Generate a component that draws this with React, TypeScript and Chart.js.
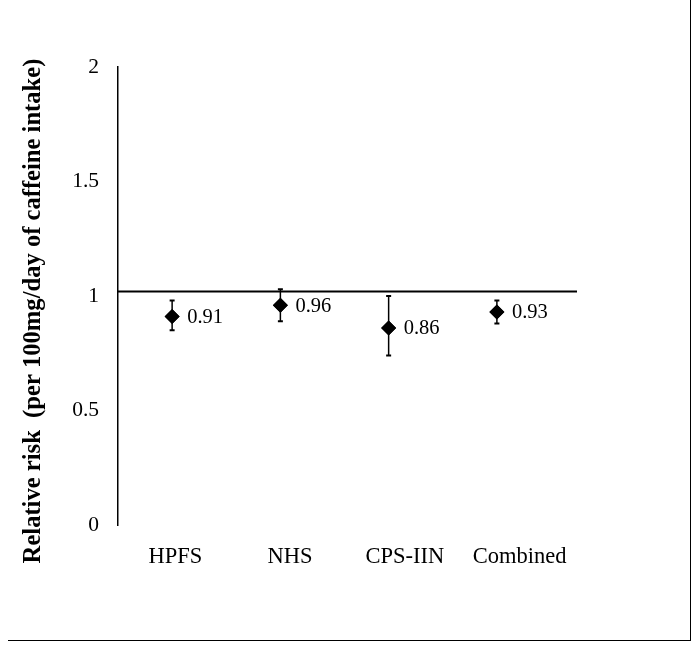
import React, { useEffect, useRef } from "react";
import { Chart, registerables } from "chart.js";

Chart.register(...registerables);

const CATEGORIES = ["HPFS", "NHS", "CPS-IIN", "Combined"];
const POSITIONS = [1, 2, 3, 4];
const RR = [0.91, 0.96, 0.86, 0.93];
const LOWER = [0.85, 0.89, 0.74, 0.88];
const UPPER = [0.98, 1.03, 1.0, 0.98];
const RR_LABELS = ["0.91", "0.96", "0.86", "0.93"];
const Y_TICKS = [0, 0.5, 1, 1.5, 2];
const REF_LINE = 1.02;
const Y_TITLE = "Relative risk  (per 100mg/day of caffeine intake)";

const SERIF = "'Liberation Serif', 'Times New Roman', serif";

const overlayPlugin = {
  id: "overlay",
  beforeDatasetsDraw(chart: any) {
    const { ctx, chartArea, scales } = chart;
    const y = scales.y.getPixelForValue(REF_LINE);
    ctx.save();
    ctx.strokeStyle = "#000";
    ctx.lineWidth = 2;
    ctx.beginPath();
    ctx.moveTo(chartArea.left, y);
    ctx.lineTo(chartArea.right, y);
    ctx.stroke();
    ctx.restore();
  },
  afterDatasetsDraw(chart: any) {
    const { ctx, scales, chartArea } = chart;
    const xs = scales.xp;
    const ys = scales.y;
    ctx.save();
    ctx.strokeStyle = "#000";
    ctx.fillStyle = "#000";
    POSITIONS.forEach((p, i) => {
      const x = xs.getPixelForValue(p);
      const yl = ys.getPixelForValue(LOWER[i]);
      const yu = ys.getPixelForValue(UPPER[i]);
      ctx.lineWidth = 1.5;
      ctx.beginPath();
      ctx.moveTo(x, yl);
      ctx.lineTo(x, yu);
      ctx.stroke();
      ctx.lineWidth = 2;
      ctx.beginPath();
      ctx.moveTo(x - 2.5, yl);
      ctx.lineTo(x + 2.5, yl);
      ctx.moveTo(x - 2.5, yu);
      ctx.lineTo(x + 2.5, yu);
      ctx.stroke();
    });
    const meta = chart.getDatasetMeta(0);
    meta.data.forEach((el: any) => el.draw(ctx, chartArea));
    ctx.font = `20.5px ${SERIF}`;
    ctx.textBaseline = "middle";
    ctx.textAlign = "left";
    POSITIONS.forEach((p, i) => {
      const x = xs.getPixelForValue(p);
      const y = ys.getPixelForValue(RR[i]);
      ctx.fillText(RR_LABELS[i], x + 15, y + 1);
    });
    // y-axis title
    ctx.save();
    ctx.translate(34, 311);
    ctx.rotate(-Math.PI / 2);
    ctx.font = `bold 24.6px ${SERIF}`;
    ctx.textAlign = "center";
    ctx.textBaseline = "middle";
    ctx.fillText(Y_TITLE, 0, 0);
    ctx.restore();
    ctx.restore();
  },
};

export default function App() {
  const ref = useRef<HTMLCanvasElement>(null);

  useEffect(() => {
    if (!ref.current) return;
    const chart = new Chart(ref.current, {
      type: "scatter",
      data: {
        labels: CATEGORIES,
        datasets: [
          {
            data: POSITIONS.map((p, i) => ({ x: p, y: RR[i] })),
            xAxisID: "xp",
            yAxisID: "y",
            pointStyle: "rectRot",
            pointRadius: 7.5,
            pointBackgroundColor: "#000",
            pointBorderColor: "#000",
            pointBorderWidth: 0,
            showLine: false,
          },
        ],
      },
      options: {
        responsive: false,
        animation: false,
        events: [],
        layout: { padding: { left: 0, top: 67, right: 123, bottom: 0 } },
        plugins: {
          legend: { display: false },
          tooltip: { enabled: false },
        },
        scales: {
          x: {
            type: "category",
            labels: CATEGORIES,
            position: "bottom",
            offset: true,
            grid: { display: false, drawTicks: false, offset: true },
            border: { display: false },
            ticks: {
              color: "#000",
              font: { family: SERIF, size: 22.5 },
              padding: 19,
              maxRotation: 0,
              autoSkip: false,
            },
            afterFit: (s: any) => {
              s.height = 126;
            },
          },
          xp: {
            type: "linear",
            display: false,
            min: 0.5,
            max: 4.74,
          },
          y: {
            type: "linear",
            min: 0,
            max: 2,
            afterBuildTicks: (s: any) => {
              s.ticks = Y_TICKS.map((v) => ({ value: v }));
            },
            grid: { color: "transparent", drawTicks: false },
            border: { display: true, color: "#000", width: 1.5 },
            ticks: {
              color: "#000",
              font: { family: SERIF, size: 21.5 },
              padding: 19,
              callback: (v: any) => String(v),
            },
            afterFit: (s: any) => {
              s.width = 118;
            },
          },
        },
      },
      plugins: [overlayPlugin],
    });
    return () => chart.destroy();
  }, []);

  return (
    <div style={{ position: "absolute", left: 0, top: 0, width: 700, height: 651, background: "#fff" }}>
      <canvas ref={ref} width={700} height={651} style={{ position: "absolute", left: 0, top: 0 }} />
      <div
        style={{
          position: "absolute",
          left: 8,
          top: 0,
          width: 682,
          height: 640,
          borderRight: "1.5px solid #000",
          borderBottom: "1.5px solid #000",
          pointerEvents: "none",
        }}
      />
    </div>
  );
}
